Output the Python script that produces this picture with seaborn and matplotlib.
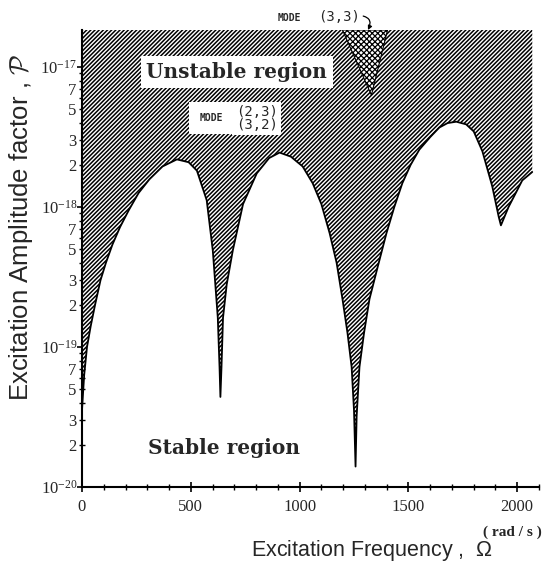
import math
import matplotlib
matplotlib.use("Agg")
import matplotlib.pyplot as plt
import matplotlib.ticker as mticker
import pandas as pd
import seaborn as sns

# ---- data ----
omega = [0, 10, 23, 40, 60, 85, 110, 140, 175, 215, 260, 310, 370, 436, 490, 528, 573, 601, 624, 632, 636,
         641, 648, 665, 693, 740, 803, 860, 908, 960, 1014, 1060, 1100, 1138, 1170, 1197, 1220, 1239, 1250, 1257,
         1262, 1275, 1296, 1321, 1360, 1399, 1435, 1472, 1510, 1550, 1600, 1642, 1680, 1720, 1765, 1800, 1840,
         1885, 1915, 1925, 1960, 2000, 2023, 2069]
amp = [3.55e-20, 6.3e-20, 1.0e-19, 1.41e-19, 2.0e-19, 3.0e-19, 4.0e-19, 5.4e-19, 7.2e-19, 9.5e-19, 1.26e-18,
       1.58e-18, 1.95e-18, 2.19e-18, 2.09e-18, 1.82e-18, 1.12e-18, 4.9e-19, 1.62e-19, 7.2e-20, 4.4e-20,
       7.2e-20, 1.62e-19, 2.8e-19, 4.9e-19, 1.05e-18, 1.74e-18, 2.24e-18, 2.45e-18, 2.29e-18, 1.95e-18,
       1.48e-18, 1.05e-18, 6.5e-19, 4.0e-19, 2.2e-19, 1.26e-19, 7.2e-20, 3.5e-20, 1.4e-20,
       3.2e-20, 7.2e-20, 1.26e-19, 2.2e-19, 3.8e-19, 6.5e-19, 1.0e-18, 1.48e-18, 2.0e-18, 2.57e-18, 3.16e-18,
       3.7e-18, 3.98e-18, 4.07e-18, 3.9e-18, 3.47e-18, 2.5e-18, 1.41e-18, 8.5e-19, 7.4e-19, 1.0e-18,
       1.32e-18, 1.55e-18, 1.78e-18]

y_top = 1.84e-17
mode33_omega = [1197, 1330, 1404]
mode33_amp = [y_top, 6.3e-18, y_top]

x_ticks = [0, 500, 1000, 1500, 2000]
x_ticklabels = ["0", "500", "1000", "1500", "2000"]
y_major = [1e-20, 1e-19, 1e-18, 1e-17]
minor_subs = [2, 3, 4, 5, 6, 7, 8, 9]
minor_labelled = [2, 3, 5, 7]

df = pd.DataFrame({"omega": omega, "amp": amp})

# ---- style ----
sns.set_style("ticks")
plt.rcParams["font.family"] = ["Liberation Serif", "DejaVu Serif"]
plt.rcParams["mathtext.fontset"] = "cm"
plt.rcParams["mathtext.default"] = "regular"

fig = plt.figure(figsize=(5.49, 5.66), dpi=100)
ax = fig.add_axes([82 / 549, 1 - 487 / 566, (539 - 82) / 549, (487 - 30) / 566])

# unstable (hatched) region
plt.rcParams["hatch.linewidth"] = 1.1
ax.fill_between(df["omega"], df["amp"], y_top, facecolor="white", edgecolor="black",
                hatch="////////", linewidth=0, zorder=1)
# mode (3,3) dotted wedge
plt.rcParams["hatch.linewidth"] = 0.9
ax.fill(mode33_omega, mode33_amp, facecolor="white", edgecolor="black", hatch="xxxxxx",
        linewidth=0.8, zorder=2)
# stability boundary
sns.lineplot(data=df, x="omega", y="amp", color="black", linewidth=1.3, ax=ax,
             sort=False, estimator=None, zorder=3)

ax.set_yscale("log")
ax.set_xlim(0, 2100)
ax.set_ylim(1e-20, y_top)

ax.set_xticks(x_ticks)
ax.set_xticklabels(x_ticklabels)
ax.xaxis.set_minor_locator(mticker.MultipleLocator(100))

y_minor = [s * d for d in y_major[:-1] for s in minor_subs]
ax.yaxis.set_major_locator(mticker.FixedLocator(y_major))
ax.yaxis.set_major_formatter(mticker.LogFormatterMathtext())
ax.yaxis.set_minor_locator(mticker.FixedLocator(y_minor))


def minor_fmt(v, pos):
    m = v / 10 ** math.floor(math.log10(v) + 1e-9)
    k = int(round(m))
    return str(k) if k in minor_labelled else ""


ax.yaxis.set_minor_formatter(mticker.FuncFormatter(minor_fmt))

ax.tick_params(axis="both", which="major", direction="inout", length=7, width=1.2,
               labelsize=12, color="black")
ax.tick_params(axis="both", which="minor", direction="inout", length=4, width=1.0,
               labelsize=12, color="black")
ax.tick_params(axis="y", which="major", pad=0)
ax.tick_params(axis="y", which="minor", pad=2)
ax.tick_params(axis="x", which="major", pad=5)

for s in ["top", "right"]:
    ax.spines[s].set_visible(False)
for s in ["left", "bottom"]:
    ax.spines[s].set_linewidth(1.5)
    ax.spines[s].set_color("black")

ax.set_xlabel(r"Excitation Frequency ,  $\Omega$", fontsize=15.5, family="Liberation Sans")
ax.set_ylabel(r"Excitation Amplitude factor , $\mathcal{P}$", fontsize=18.5, family="Liberation Sans")
ax.xaxis.set_label_coords(0.635, -0.112)
ax.yaxis.set_label_coords(-0.103, 0.567)
ax.text(0.941, -0.098, "( rad / s )", transform=ax.transAxes, fontsize=11, fontweight="bold",
        ha="center", va="center")

# annotations
ax.text(711, 9.2e-18, "Unstable region", family="DejaVu Serif", fontweight="bold", fontsize=14.5,
        ha="center", va="center", bbox=dict(facecolor="white", edgecolor="none", pad=4), zorder=5)
ax.text(651, 1.9e-20, "Stable region", family="DejaVu Serif", fontweight="bold", fontsize=14.5,
        ha="center", va="center", zorder=5)
ax.text(596, 4.3e-18, "MODE", family="DejaVu Sans Mono", fontweight="bold", fontsize=7,
        ha="center", va="center", bbox=dict(facecolor="white", edgecolor="none", pad=8), zorder=5)
ax.text(803, 4.3e-18, "(2,3)\n(3,2)", family="DejaVu Sans Mono", fontsize=10, linespacing=0.85,
        ha="center", va="center", bbox=dict(facecolor="white", edgecolor="none", pad=2.5), zorder=6)

ax.text(951, 1.02, "MODE", transform=ax.get_xaxis_transform(), family="DejaVu Sans Mono",
        fontweight="bold", fontsize=7, ha="center", va="baseline")
ax.annotate("(3,3)", xy=(1314, y_top), xycoords="data",
            xytext=(1181, 1.02), textcoords=("data", "axes fraction"),
            family="DejaVu Sans Mono", fontsize=10, ha="center", va="baseline",
            annotation_clip=False,
            arrowprops=dict(arrowstyle="-|>", color="black", lw=0.9, mutation_scale=6,
                            connectionstyle="arc3,rad=-0.7", shrinkA=0, shrinkB=0,
                            relpos=(1.0, 0.6)))

fig.savefig("out.png", dpi=100)
